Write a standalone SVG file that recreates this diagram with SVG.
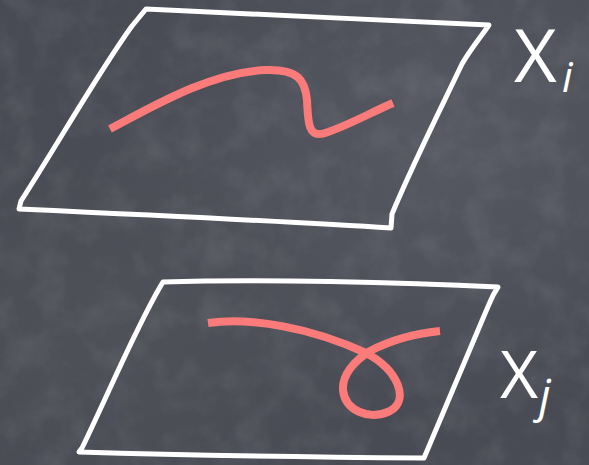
<svg xmlns="http://www.w3.org/2000/svg" width="589" height="465" viewBox="0 0 589 465">
  <defs>
    <radialGradient id="glow1" cx="0.75" cy="0.3" r="0.6">
      <stop offset="0" stop-color="#5c5f68" stop-opacity="0.7"/>
      <stop offset="1" stop-color="#5c5f68" stop-opacity="0"/>
    </radialGradient>
    <radialGradient id="glow2" cx="0.2" cy="0.7" r="0.5">
      <stop offset="0" stop-color="#55575f" stop-opacity="0.5"/>
      <stop offset="1" stop-color="#55575f" stop-opacity="0"/>
    </radialGradient>
    <filter id="chalk" x="0" y="0" width="100%" height="100%">
      <feTurbulence type="fractalNoise" baseFrequency="0.03" numOctaves="4" seed="7" result="n"/>
      <feColorMatrix in="n" type="matrix" values="0 0 0 0 0.75  0 0 0 0 0.77  0 0 0 0 0.82  0 0 0 1.1 -0.45"/>
    </filter>
  </defs>
  <style>
    .plane { fill: none; stroke: #ffffff; stroke-width: 5; stroke-linejoin: round; stroke-linecap: round; }
    .curve { fill: none; stroke: #fb7a7a; stroke-width: 8; stroke-linejoin: round; stroke-linecap: butt; }
    .lab { fill: #ffffff; font-family: "Open Sans", "DejaVu Sans", sans-serif; font-weight: 400; }
  </style>
  <g id="background">
    <rect width="589" height="465" fill="#484b53"/>
    <rect width="589" height="465" fill="url(#glow1)"/>
    <rect width="589" height="465" fill="url(#glow2)"/>
    <rect width="589" height="465" filter="url(#chalk)" opacity="0.16"/>
  </g>
  <g id="plane-i">
    <path class="plane" d="M146,9 C250,14 380,20 489,25 C480,38 470,50 462,64 C440,110 410,170 392,214 L391,228 C300,222 150,215 19,209 L21,201 C60,140 100,70 132,26 Z"/>
    <path class="curve" d="M110,129 C150,108 210,72 266,70 C298,69 305,80 307,100 C308,125 309,138 325,133 C347,126 372,112 393,103"/>
  </g>
  <g id="plane-j">
    <path class="plane" d="M163,282 C260,279 400,282 498,287 C494,293 492,297 490,302 C465,360 440,420 424,458 C300,457 180,455 79,452 L82,448 C110,390 135,330 160,287 Z"/>
    <path class="curve" d="M208,323 C252,317 312,328 366,353 C398,370 410,400 390,411 C368,421 345,410 343,390 C342,375 354,361 370,351 C395,338 420,333 440,331"/>
  </g>
  <g id="label-i">
    <text class="lab" x="514" y="82" font-size="74">X</text>
    <text class="lab" x="562" y="92" font-size="42" font-style="italic">i</text>
  </g>
  <g id="label-j">
    <text class="lab" x="500" y="398" font-size="66">X</text>
    <text class="lab" x="539" y="412" font-size="46" font-style="italic">j</text>
  </g>
</svg>
